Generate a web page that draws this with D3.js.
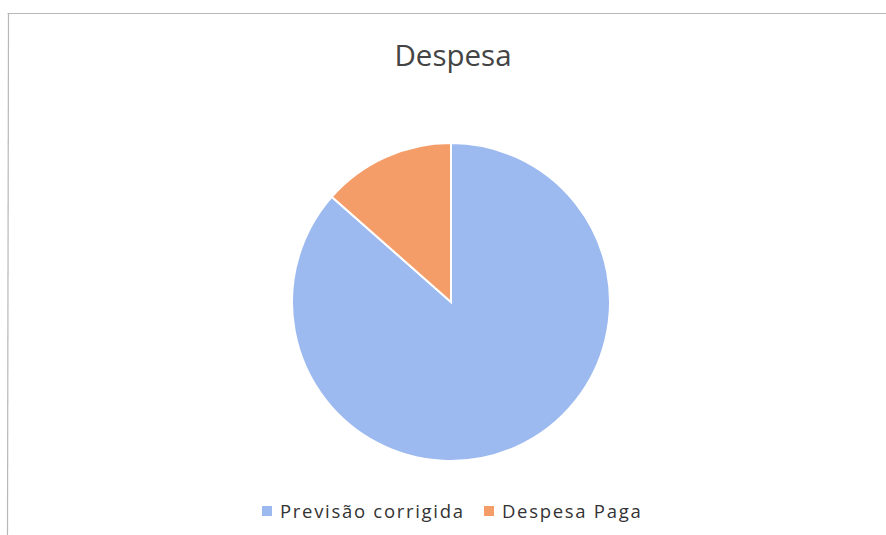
<!DOCTYPE html>
<html lang="pt">
<head>
    <meta charset="UTF-8">
    <title>Despesa</title>
    <script src="https://d3js.org/d3.v7.min.js"></script>
    <style>
        body { margin: 0; background: #fff; }
        svg { display: block; }
    </style>
</head>
<body>
    <svg width="886" height="535"></svg>
    <script>
        // dados do gráfico
        const categorias = ["Previsão corrigida", "Despesa Paga"];
        const valores = [86.5, 13.5];
        const cores = ["#9dbaf0", "#f59d68"];

        const svg = d3.select("svg");
        const width = 886, height = 535;

        // moldura (só topo e esquerda visíveis)
        svg.append("line")
            .attr("x1", 7.5).attr("y1", 13.5).attr("x2", 886).attr("y2", 13.5)
            .attr("stroke", "#b8b8b8").attr("stroke-width", 1.2);
        svg.append("line")
            .attr("x1", 8.5).attr("y1", 13.5).attr("x2", 7.5).attr("y2", 535)
            .attr("stroke", "#b8b8b8").attr("stroke-width", 1.2);

        // título
        svg.append("text")
            .attr("x", 453)
            .attr("y", 66)
            .attr("text-anchor", "middle")
            .attr("font-family", "Open Sans, sans-serif")
            .attr("font-size", "29.5px")
            .attr("fill", "#444")
            .text("Despesa");

        const cx = 451, cy = 302, r = 159;
        const pie = d3.pie().sort(null).value(d => d);
        const arc = d3.arc().innerRadius(0).outerRadius(r);

        const g = svg.append("g").attr("transform", `translate(${cx},${cy})`);
        g.selectAll("path")
            .data(pie(valores))
            .enter()
            .append("path")
            .attr("d", arc)
            .attr("fill", (d, i) => cores[i])
            .attr("stroke", "#fff")
            .attr("stroke-width", 2);

        // legenda
        const legendaX = [262, 484];
        const leg = svg.selectAll(".leg")
            .data(categorias)
            .enter()
            .append("g")
            .attr("class", "leg")
            .attr("transform", (d, i) => `translate(${legendaX[i]},511)`);
        leg.append("rect")
            .attr("x", 0).attr("y", -5)
            .attr("width", 10).attr("height", 10)
            .attr("fill", (d, i) => cores[i]);
        leg.append("text")
            .attr("x", 18)
            .attr("y", 7)
            .attr("font-family", "Open Sans, sans-serif")
            .attr("font-size", "18.5px")
            .attr("letter-spacing", "1.7px")
            .attr("fill", "#333")
            .text(d => d);
    </script>
</body>
</html>
